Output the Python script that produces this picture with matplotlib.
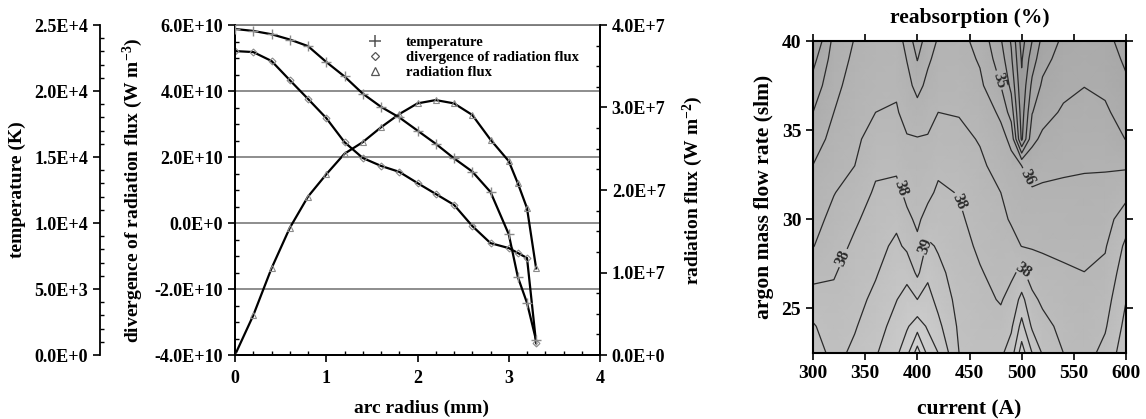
import numpy as np
import matplotlib.pyplot as plt
from matplotlib.lines import Line2D
from matplotlib.ticker import MultipleLocator, FuncFormatter
from matplotlib.colors import LinearSegmentedColormap

plt.rcParams['font.family'] = ['Liberation Serif', 'DejaVu Serif']
plt.rcParams['font.weight'] = 'bold'
plt.rcParams['axes.labelweight'] = 'bold'
plt.rcParams['mathtext.fontset'] = 'custom'
plt.rcParams['mathtext.rm'] = 'Liberation Serif:bold'
plt.rcParams['mathtext.bf'] = 'Liberation Serif:bold'
plt.rcParams['mathtext.default'] = 'bf'

# radial profiles across the arc
radius = [0.0, 0.2, 0.4, 0.6, 0.8, 1.0, 1.2, 1.4, 1.6, 1.8, 2.0,
          2.2, 2.4, 2.6, 2.8, 3.0, 3.1, 3.2, 3.3]
temperature = [24700, 24550, 24300, 23900, 23400, 22200, 21100, 19800,
               18800, 18000, 17000, 16000, 14900, 13900, 12350, 9150,
               5900, 3950, 1100]
divergence = [5.21e10, 5.18e10, 4.91e10, 4.33e10, 3.76e10, 3.18e10,
              2.45e10, 1.97e10, 1.73e10, 1.55e10, 1.21e10, 0.88e10,
              0.55e10, -0.09e10, -0.61e10, -0.76e10, -0.91e10,
              -1.06e10, -3.64e10]
rad_flux = [0.0, 0.48e7, 1.05e7, 1.54e7, 1.92e7, 2.19e7, 2.44e7, 2.58e7,
            2.76e7, 2.92e7, 3.05e7, 3.09e7, 3.05e7, 2.91e7, 2.61e7,
            2.35e7, 2.08e7, 1.78e7, 1.05e7]

# reabsorption map: one list per current, values at each flow rate
current = [300, 320, 340, 360, 380, 390, 400, 410, 420, 440,
           460, 480, 490, 500, 510, 520, 540, 560, 580, 600]
flow = [22.5, 24, 25.5, 27, 28.5, 30, 31.5, 33, 34.5, 36, 37.5, 39, 40]
reabsorption = [
    [39.5, 39.1, 38.4, 37.7, 36.96, 36.65, 36.33, 36.02, 35.52, 35.0, 34.4, 33.67, 33.0],
    [38.7, 38.45, 38.2, 37.93, 37.61, 37.28, 36.96, 36.64, 36.32, 36.0, 35.74, 35.48, 35.3],
    [39.2, 38.92, 38.67, 38.42, 38.17, 37.86, 37.43, 37.0, 36.8, 36.59, 36.39, 36.19, 36.05],
    [39.9, 39.56, 39.23, 38.91, 38.66, 38.4, 38.14, 37.81, 37.41, 37.0, 36.81, 36.63, 36.5],
    [40.8, 40.39, 39.97, 39.59, 39.21, 38.77, 38.27, 37.83, 37.45, 37.08, 36.87, 36.71, 36.6],
    [41.7, 40.87, 40.37, 39.71, 38.8, 38.2, 37.77, 37.42, 37.07, 36.71, 36.34, 35.96, 35.6],
    [43.5, 41.56, 40.0, 38.8, 38.2, 37.83, 37.57, 37.31, 37.05, 36.4, 35.67, 34.95, 34.5],
    [41.7, 40.86, 40.34, 39.8, 39.2, 38.33, 37.77, 37.42, 37.07, 36.68, 36.27, 35.83, 35.5],
    [41.0, 40.25, 39.71, 39.29, 38.88, 38.52, 38.17, 37.79, 37.39, 37.0, 36.66, 36.33, 36.1],
    [39.0, 38.83, 38.66, 38.49, 38.32, 38.15, 37.95, 37.6, 37.26, 36.94, 36.7, 36.46, 36.3],
    [38.7, 38.49, 38.28, 38.07, 37.85, 37.63, 37.4, 37.18, 36.93, 36.57, 36.21, 35.89, 35.7],
    [38.8, 38.32, 37.92, 37.69, 37.46, 37.23, 37.0, 36.64, 36.29, 35.83, 35.0, 34.46, 34.1],
    [39.5, 38.83, 38.33, 37.83, 37.33, 36.9, 36.58, 36.27, 35.8, 34.56, 33.76, 33.16, 32.9],
    [41.5, 40.33, 39.29, 38.21, 36.98, 36.65, 36.33, 36.0, 31.8, 31.5, 31.2, 30.9, 30.6],
    [40.0, 38.84, 38.24, 37.57, 36.92, 36.53, 36.13, 35.52, 34.78, 33.95, 33.24, 32.5, 32.0],
    [38.9, 38.34, 37.81, 37.32, 36.88, 36.52, 36.17, 35.71, 35.18, 34.67, 34.17, 33.65, 33.3],
    [38.0, 37.71, 37.41, 37.12, 36.81, 36.5, 36.19, 35.85, 35.49, 35.12, 34.77, 34.43, 34.2],
    [37.6, 37.4, 37.21, 37.01, 36.75, 36.47, 36.2, 35.92, 35.6, 35.29, 34.98, 34.69, 34.5],
    [38.3, 37.89, 37.57, 37.24, 36.91, 36.59, 36.26, 35.92, 35.54, 35.15, 34.81, 34.51, 34.3],
    [39.6, 39.29, 38.97, 38.59, 38.21, 37.56, 36.68, 35.88, 34.97, 34.58, 34.18, 33.82, 33.6],
]
levels = list(range(31, 44))
label_spots = [(478, 37.8), (503, 32.3), (386, 31.8), (440, 31.0),
               (330, 27.8), (401, 28.6), (506, 27.3)]


def sci(v, pos):
    if v == 0:
        return '0.0E+0'
    e = int(np.floor(np.log10(abs(v)) + 1e-9))
    return f'{v / 10**e:.1f}E+{e}'


W, H = 1146, 419
fig = plt.figure(figsize=(W / 100, H / 100), dpi=100)

# ---- left panel: radial profiles ----
ax = fig.add_axes([235 / W, 1 - 355 / H, 365 / W, 330 / H])
rx = ax.twinx()
tx = ax.twinx()

ax.set_xlim(0, 4)
ax.set_ylim(-4e10, 6e10)
rx.set_ylim(0, 4e7)
tx.set_ylim(0, 2.5e4)

ax.set_yticks(np.arange(-4e10, 6.1e10, 2e10))
ax.yaxis.set_minor_locator(MultipleLocator(5e9))
rx.set_yticks(np.arange(0, 4.1e7, 1e7))
rx.yaxis.set_minor_locator(MultipleLocator(2.5e6))
tx.set_yticks(np.arange(0, 2.51e4, 5e3))
tx.yaxis.set_minor_locator(MultipleLocator(1e3))
ax.set_xticks([0, 1, 2, 3, 4])
ax.xaxis.set_minor_locator(MultipleLocator(0.2))
for a in (ax, rx, tx):
    a.yaxis.set_major_formatter(FuncFormatter(sci))

ax.grid(axis='y', color='#7a7a7a', lw=1.2)
ax.set_axisbelow(True)

tx.spines['left'].set_position(('axes', -0.37))
tx.spines['left'].set_visible(True)
for s in ('right', 'top', 'bottom'):
    tx.spines[s].set_visible(False)
tx.yaxis.set_ticks_position('left')
tx.yaxis.set_label_position('left')
ax.spines['top'].set_color('#7a7a7a')
rx.spines['top'].set_visible(False)

for a in (ax, rx, tx):
    for s in a.spines.values():
        s.set_linewidth(1.3)
    a.tick_params(which='major', direction='out', length=5, width=1.2,
                  labelsize=13)
    a.tick_params(which='minor', direction='in', length=3, width=1.0)
ax.tick_params(axis='x', pad=6)

mk = '#8a8a8a'
tx.plot(radius, temperature, color='black', lw=1.6)
tx.plot(radius, temperature, ls='none', marker='+', ms=6.5, mew=1.0, color=mk)
ax.plot(radius, divergence, color='black', lw=1.6)
ax.plot(radius, divergence, ls='none', marker='D', ms=3.5, mew=0.8,
        mfc='none', mec=mk)
rx.plot(radius, rad_flux, color='black', lw=1.6)
rx.plot(radius, rad_flux, ls='none', marker='^', ms=4.5, mew=0.8,
        mfc='none', mec=mk)

ax.set_xlabel('arc radius (mm)', fontsize=14)
ax.xaxis.set_label_coords(0.51, -0.135)
ax.set_ylabel('divergence of radiation flux (W m$^{-3}$)', fontsize=14)
ax.yaxis.set_label_coords(-0.247, 0.5)
tx.set_ylabel('temperature (K)', fontsize=14)
tx.yaxis.set_label_coords(-0.572, 0.5)
rx.set_ylabel('radiation flux (W m$^{-2}$)', fontsize=14)
rx.yaxis.set_label_coords(1.22, 0.5)

handles = [
    Line2D([], [], ls='none', marker='+', ms=9, mew=1.1, color='#555555'),
    Line2D([], [], ls='none', marker='D', ms=4.5, mew=0.9, mfc='none',
           mec='#555555'),
    Line2D([], [], ls='none', marker='^', ms=5.5, mew=0.9, mfc='none',
           mec='#555555'),
]
fig.legend(handles, ['temperature', 'divergence of radiation flux',
                     'radiation flux'],
           loc='upper left', bbox_to_anchor=(368 / W, 1 - 36 / H),
           frameon=False, fontsize=10.5, handlelength=1.0,
           handletextpad=1.6, labelspacing=0.12, borderpad=0,
           borderaxespad=0)

# ---- right panel: reabsorption contour map ----
ax2 = fig.add_axes([813 / W, 1 - 353 / H, 313 / W, 312 / H])
Z = np.array(reabsorption).T
cmap = LinearSegmentedColormap.from_list('greys', ['#9a9a9a', '#d4d4d4'])
ax2.pcolormesh(current, flow, Z, shading='gouraud', cmap=cmap,
               vmin=31, vmax=43)
cs = ax2.contour(current, flow, Z, levels=levels, colors='#2a2a2a',
                 linewidths=0.9)
labels = ax2.clabel(cs, fmt='%d', fontsize=11.5, inline=True,
                    inline_spacing=2, manual=label_spots)
for t in labels:
    t.set_fontweight('bold')

ax2.set_xlim(300, 600)
ax2.set_ylim(22.5, 40)
ax2.set_xticks(range(300, 601, 50))
ax2.set_yticks([25, 30, 35, 40])
ax2.tick_params(direction='out', length=5, width=1.2, labelsize=14,
                top=True, right=True)
for s in ax2.spines.values():
    s.set_linewidth(1.5)
ax2.set_title('reabsorption (%)', fontsize=15.5, fontweight='bold', pad=13)
ax2.set_xlabel('current (A)', fontsize=15.5)
ax2.xaxis.set_label_coords(0.5, -0.15)
ax2.set_ylabel('argon mass flow rate (slm)', fontsize=15.5)
ax2.yaxis.set_label_coords(-0.125, 0.5)

fig.savefig('out.png', dpi=100)
